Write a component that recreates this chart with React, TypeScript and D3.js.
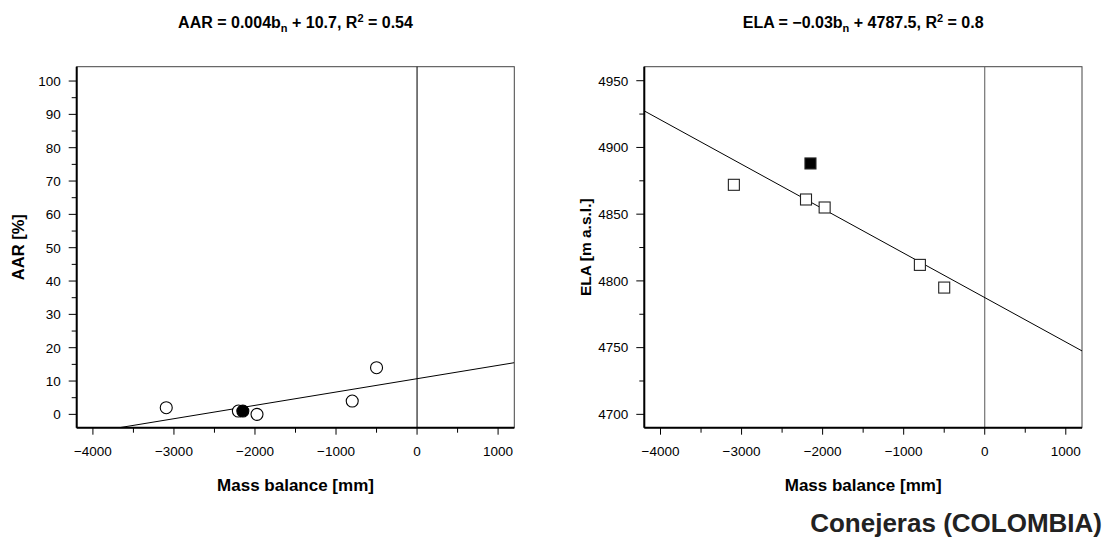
import React from "react";
import * as d3 from "d3";

const massBalance = [-3095, -2205, -1975, -800, -500];
const aarValues = [2, 1, 0, 4, 14];
const elaValues = [4872, 4861, 4855, 4812, 4795];
const highlightBalance = [-2150];
const highlightAar = [1];
const highlightEla = [4888];

const xTicks = [-4000, -3000, -2000, -1000, 0, 1000];
const xMinorTicks = [-3500, -2500, -1500, -500, 500];
const aarTicks = [0, 10, 20, 30, 40, 50, 60, 70, 80, 90, 100];
const aarMinor = [5, 15, 25, 35, 45, 55, 65, 75, 85, 95];
const elaTicks = [4700, 4750, 4800, 4850, 4900, 4950];
const elaMinor = [4725, 4775, 4825, 4875, 4925];

const aarFit = { slope: 0.004, intercept: 10.7 };
const elaFit = { slope: -0.0333, intercept: 4787.5 };

const FONT = "'Liberation Sans', Arial, sans-serif";

type PanelProps = {
  left: number;
  right: number;
  yDomain: [number, number];
  yTicks: number[];
  yMinor: number[];
  yValues: number[];
  hiValues: number[];
  fit: { slope: number; intercept: number };
  yLabel: string;
  yLabelSize: number;
  title: React.ReactNode;
  marker: "circle" | "square";
  zeroColor: string;
  clipId: string;
};

const TOP = 66.7;
const BOTTOM = 427.7;

function Panel(p: PanelProps) {
  const x = d3.scaleLinear().domain([-4200, 1200]).range([p.left, p.right]);
  const y = d3.scaleLinear().domain(p.yDomain).range([BOTTOM, TOP]);
  const xd = x.domain();
  const linePath = d3.line<number>()
    .x((d) => x(d))
    .y((d) => y(p.fit.slope * d + p.fit.intercept))([xd[0], xd[1]]);
  const cx = (p.left + p.right) / 2;
  const cy = (TOP + BOTTOM) / 2;
  const mark = (bx: number, v: number, filled: boolean, key: string) => {
    if (p.marker === "circle") {
      return (
        <circle key={key} cx={x(bx)} cy={y(v)} r={6}
          fill={filled ? "#000" : "#fff"} stroke="#000" strokeWidth={1.1} />
      );
    }
    return (
      <rect key={key} x={x(bx) - 5.5} y={y(v) - 5.5} width={11} height={11}
        fill={filled ? "#000" : "#fff"} stroke="#222" strokeWidth={1.1} />
    );
  };
  return (
    <g>
      <defs>
        <clipPath id={p.clipId}>
          <rect x={p.left} y={TOP} width={p.right - p.left} height={BOTTOM - TOP} />
        </clipPath>
      </defs>
      <text x={cx} y={28} textAnchor="middle" fontFamily={FONT} fontWeight="bold" fontSize={16}>
        {p.title}
      </text>
      <rect x={p.left} y={TOP} width={p.right - p.left} height={BOTTOM - TOP}
        fill="none" stroke="#444" strokeWidth={1} />
      <line x1={x(0)} x2={x(0)} y1={TOP} y2={BOTTOM} stroke={p.zeroColor} strokeWidth={1.1} />
      <g clipPath={`url(#${p.clipId})`}>
        <path d={linePath || ""} fill="none" stroke="#000" strokeWidth={1} />
      </g>
      {massBalance.map((b, i) => mark(b, p.yValues[i], false, "o" + i))}
      {highlightBalance.map((b, i) => mark(b, p.hiValues[i], true, "h" + i))}
      <line x1={p.left} x2={p.left} y1={TOP} y2={BOTTOM} stroke="#000" strokeWidth={2} />
      <line x1={p.left} x2={p.right} y1={BOTTOM} y2={BOTTOM} stroke="#000" strokeWidth={2} />
      {xTicks.map((t) => (
        <g key={"xt" + t}>
          <line x1={x(t)} x2={x(t)} y1={BOTTOM} y2={BOTTOM + 7} stroke="#000" strokeWidth={1} />
          <text x={x(t)} y={456} textAnchor="middle" fontFamily={FONT} fontSize={13.5}>
            {t < 0 ? "\u2212" + Math.abs(t) : String(t)}
          </text>
        </g>
      ))}
      {xMinorTicks.map((t) => (
        <line key={"xm" + t} x1={x(t)} x2={x(t)} y1={BOTTOM} y2={BOTTOM + 5} stroke="#000" strokeWidth={1} />
      ))}
      {p.yTicks.map((t) => (
        <g key={"yt" + t}>
          <line x1={p.left - 8} x2={p.left} y1={y(t)} y2={y(t)} stroke="#000" strokeWidth={1} />
          <text x={p.left - 16} y={y(t) + 4.8} textAnchor="end" fontFamily={FONT} fontSize={13.5}>
            {t}
          </text>
        </g>
      ))}
      {p.yMinor.map((t) => (
        <line key={"ym" + t} x1={p.left - 5} x2={p.left} y1={y(t)} y2={y(t)} stroke="#000" strokeWidth={1} />
      ))}
      <text x={cx} y={491} textAnchor="middle" fontFamily={FONT} fontWeight="bold" fontSize={17}>
        Mass balance [mm]
      </text>
      <text transform={`translate(${p.left - 53},${cy}) rotate(-90)`} textAnchor="middle"
        fontFamily={FONT} fontWeight="bold" fontSize={p.yLabelSize}>
        {p.yLabel}
      </text>
    </g>
  );
}

export default function App() {
  const titleA = (
    <>
      <tspan>AAR = 0.004b</tspan>
      <tspan fontSize={11} dy={4}>n</tspan>
      <tspan dy={-4}> + 10.7, R</tspan>
      <tspan fontSize={11} dy={-6}>2</tspan>
      <tspan dy={6}> = 0.54</tspan>
    </>
  );
  const titleE = (
    <>
      <tspan>ELA = {"\u2212"}0.03b</tspan>
      <tspan fontSize={11} dy={4}>n</tspan>
      <tspan dy={-4}> + 4787.5, R</tspan>
      <tspan fontSize={11} dy={-6}>2</tspan>
      <tspan dy={6}> = 0.8</tspan>
    </>
  );
  return (
    <svg width={1119} height={550} style={{ position: "absolute", left: 0, top: 0, background: "#fff" }}>
      <rect x={0} y={0} width={1119} height={550} fill="#fff" />
      <Panel left={76.7} right={514.3} yDomain={[-4, 104.3]} yTicks={aarTicks} yMinor={aarMinor}
        yValues={aarValues} hiValues={highlightAar} fit={aarFit} yLabel="AAR [%]" yLabelSize={16.5}
        title={titleA} marker="circle" zeroColor="#111" clipId="clipA" />
      <Panel left={644.3} right={1082} yDomain={[4690, 4960.5]} yTicks={elaTicks} yMinor={elaMinor}
        yValues={elaValues} hiValues={highlightEla} fit={elaFit} yLabel="ELA [m a.s.l.]" yLabelSize={15.5}
        title={titleE} marker="square" zeroColor="#666" clipId="clipE" />
      <text x={1102} y={532} textAnchor="end" fontFamily={FONT}
        fontWeight="bold" fontSize={26} fill="#222">
        Conejeras (COLOMBIA)
      </text>
    </svg>
  );
}
